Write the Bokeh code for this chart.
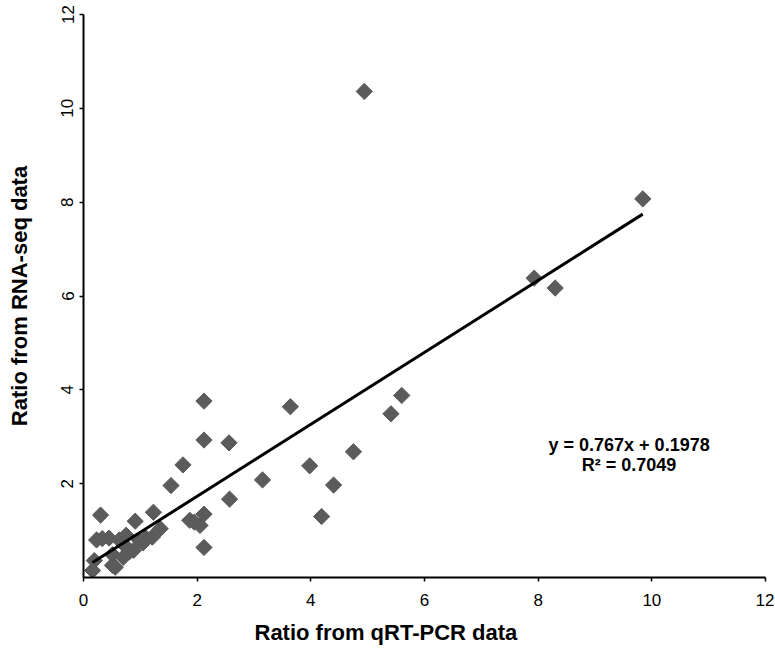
import numpy as np
from bokeh.plotting import figure
from bokeh.models import Range1d, FixedTicker, Label, Title
from bokeh.embed import file_html
from bokeh.resources import INLINE

# data
qrt_pcr = [0.16, 0.19, 0.23, 0.33, 0.45, 0.30, 0.51, 0.56, 0.51, 0.63,
           0.70, 0.72, 0.75, 0.81, 0.88, 0.91, 0.98, 1.05, 1.10, 1.21,
           1.23, 1.35, 1.54, 1.75, 1.87, 1.95, 2.05, 2.12, 2.12, 2.12,
           2.12, 2.56, 2.57, 3.15, 3.64, 3.98, 4.19, 4.40, 4.75, 4.94,
           5.41, 5.60, 7.93, 8.30, 9.84]
rna_seq = [0.15, 0.36, 0.80, 0.83, 0.84, 1.33, 0.26, 0.22, 0.49, 0.80,
           0.43, 0.69, 0.90, 0.55, 0.58, 1.20, 0.80, 0.74, 0.84, 0.86,
           1.39, 1.04, 1.96, 2.40, 1.22, 1.18, 1.11, 1.35, 0.64, 2.93,
           3.76, 2.87, 1.67, 2.08, 3.64, 2.38, 1.30, 1.97, 2.68, 10.36,
           3.49, 3.88, 6.38, 6.17, 8.07]
slope = 0.767
intercept = 0.1978
r_squared = 0.7049
x_ticks = [0, 2, 4, 6, 8, 10, 12]
y_ticks = [2, 4, 6, 8, 10, 12]
x_title = "Ratio from qRT-PCR data"
y_title = "Ratio from RNA-seq data"

FONT = "Liberation Sans"

p = figure(width=774, height=654, output_backend="svg", toolbar_location=None,
           x_range=Range1d(0, 12), y_range=Range1d(0, 12),
           min_border_left=83, min_border_right=9, min_border_top=14,
           min_border_bottom=60)
p.outline_line_color = None
p.grid.visible = False
p.background_fill_color = "white"
p.border_fill_color = "white"

p.scatter(qrt_pcr, rna_seq, marker="square", angle=np.pi / 4, size=11.5,
          fill_color="#5b5b5b", line_color="#5b5b5b")

fit_x = np.array([min(qrt_pcr), max(qrt_pcr)])
fit_y = slope * fit_x + intercept
p.line(fit_x, fit_y, line_color="black", line_width=3)

p.xaxis.ticker = FixedTicker(ticks=x_ticks)
p.yaxis.ticker = FixedTicker(ticks=y_ticks)
for ax in (p.xaxis, p.yaxis):
    ax.axis_line_color = "black"
    ax.axis_line_width = 2
    ax.major_tick_line_color = "black"
    ax.major_tick_line_width = 1.5
    ax.major_tick_out = 4
    ax.major_tick_in = 0
    ax.minor_tick_line_color = None
    ax.major_label_text_font = FONT
    ax.major_label_text_font_size = "17px"
    ax.major_label_text_color = "black"
    ax.axis_label_text_font = FONT
    ax.axis_label_text_font_size = "22px"
    ax.axis_label_text_font_style = "bold"
    ax.axis_label_text_color = "black"

p.yaxis.axis_label = y_title
p.xaxis.major_label_standoff = 12
p.yaxis.major_label_orientation = "vertical"
p.yaxis.major_label_standoff = 6
p.yaxis.axis_label_standoff = 27

xtitle = Title(text=x_title, align="left", offset=171,
               text_font=FONT, text_font_size="22px", text_font_style="bold",
               text_color="black", standoff=19)
p.add_layout(xtitle, "below")

eq1 = Label(x=9.6, y=2.83, text=f"y = {slope}x + {intercept}",
            text_align="center", text_baseline="middle",
            text_font=FONT, text_font_size="18px", text_font_style="bold",
            text_color="black")
eq2 = Label(x=9.6, y=2.40, text=f"R² = {r_squared}",
            text_align="center", text_baseline="middle",
            text_font=FONT, text_font_size="18px", text_font_style="bold",
            text_color="black")
p.add_layout(eq1)
p.add_layout(eq2)

open("out.html", "w").write(file_html(p, INLINE))
